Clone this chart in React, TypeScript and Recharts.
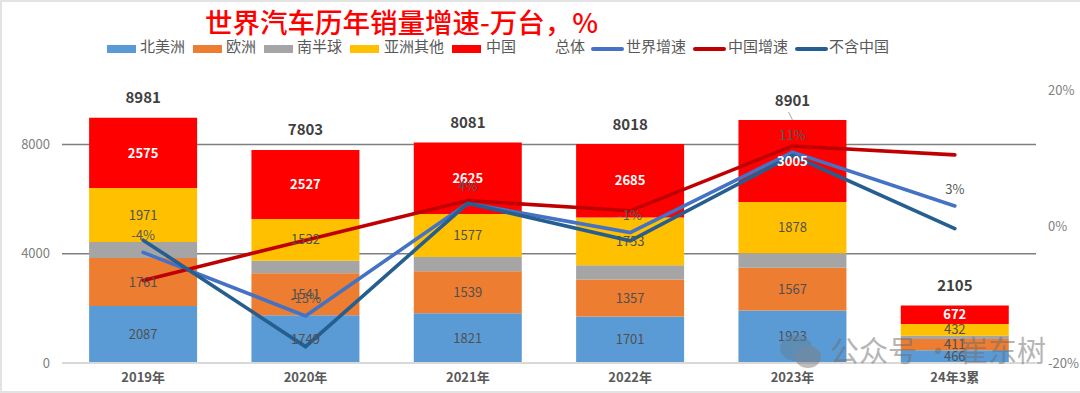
import { Bar, CartesianGrid, ComposedChart, LabelList, Line, XAxis, YAxis } from 'recharts'

const categories = ['2019年', '2020年', '2021年', '2022年', '2023年', '24年3累']
const northAmerica = [2087, 1749, 1821, 1701, 1923, 466]
const europe = [1761, 1541, 1539, 1357, 1567, 411]
const southern = [587, 454, 519, 522, 528, 124]
const otherAsia = [1971, 1532, 1577, 1753, 1878, 432]
const china = [2575, 2527, 2625, 2685, 3005, 672]
const total = [8981, 7803, 8081, 8018, 8901, 2105]
const worldGrowth = [-3.8, -13.1, 3.4, -0.9, 10.9, 3]
const worldGrowthLabels = ['-4%', '-13%', '4%', '-1%', '11%', '3%']
const chinaGrowth = [-7.9, -2, 3.8, 2.3, 11.8, 10.5]
const exChinaGrowth = [-2, -17.6, 3.4, -2.1, 10.4, -0.3]
const leftTicks = [0, 4000, 8000]
const gridValues = [4000, 8000]
const rightTicks = [-20, 0, 20]

const colors = {
  northAmerica: '#5b9bd5',
  europe: '#ed7d31',
  southern: '#a5a5a5',
  otherAsia: '#ffc000',
  china: '#ff0000',
  world: '#4472c4',
  chinaGrowth: '#c00000',
  exChina: '#255e91',
}

const FONT = '"Noto Sans CJK SC", "Noto Sans", sans-serif'

const data = categories.map((name, i) => ({
  name,
  northAmerica: northAmerica[i],
  europe: europe[i],
  southern: southern[i],
  otherAsia: otherAsia[i],
  china: china[i],
  total: total[i],
  world: worldGrowth[i],
  chinaGrowth: chinaGrowth[i],
  exChina: exChinaGrowth[i],
}))

// legend is placed by hand, the reference has uneven spacing
const legendItems = [
  { label: '北美洲', color: colors.northAmerica, kind: 'bar', swatchX: 107, textX: 140 },
  { label: '欧洲', color: colors.europe, kind: 'bar', swatchX: 193, textX: 226 },
  { label: '南半球', color: colors.southern, kind: 'bar', swatchX: 264, textX: 297 },
  { label: '亚洲其他', color: colors.otherAsia, kind: 'bar', swatchX: 350, textX: 384 },
  { label: '中国', color: colors.china, kind: 'bar', swatchX: 452, textX: 486 },
  { label: '总体', color: 'none', kind: 'none', swatchX: 0, textX: 555 },
  { label: '世界增速', color: colors.world, kind: 'line', swatchX: 591, textX: 626 },
  { label: '中国增速', color: colors.chinaGrowth, kind: 'line', swatchX: 693, textX: 728 },
  { label: '不含中国', color: colors.exChina, kind: 'line', swatchX: 795, textX: 829 },
]

const barLabel = { fill: '#505050', fontSize: 13, fontFamily: FONT }
const chinaLabel = { fill: '#ffffff', fontSize: 13, fontWeight: 700, fontFamily: FONT }

function TotalLabel(props: any) {
  const { x, y, index, value } = props
  return (
    <g>
      {index === 4 && <line x1={x - 4} y1={y - 8} x2={x} y2={y} stroke="#a6a6a6" strokeWidth={1} />}
      <text x={x} y={y - 21} textAnchor="middle" dominantBaseline="central" fontSize={15} fontWeight={700} fontFamily={FONT} fill="#404040">
        {value}
      </text>
    </g>
  )
}

function GrowthLabel(props: any) {
  const { x, y, index } = props
  return (
    <text x={x} y={y - 18} textAnchor="middle" dominantBaseline="central" fontSize={13} fontFamily={FONT} fill="#595959">
      {worldGrowthLabels[index]}
    </text>
  )
}

export default function App() {
  return (
    <div style={{ position: 'relative', width: 1080, height: 393, background: '#fff', overflow: 'hidden', fontFamily: FONT }}>
      <style>{'body{margin:0}'}</style>
      <div style={{ position: 'absolute', inset: 0, border: '2px solid #e3e3e3', borderRight: 'none', boxSizing: 'border-box' }} />

      <div style={{ position: 'absolute', left: 205, top: 1, fontSize: 27.5, fontWeight: 500, lineHeight: '40px', color: '#ff0000', whiteSpace: 'nowrap' }}>
        世界汽车历年销量增速-万台，%
      </div>

      {legendItems.map((item) => (
        <div key={item.label}>
          {item.kind === 'bar' && (
            <div style={{ position: 'absolute', left: item.swatchX, top: 45, width: 29, height: 8, background: item.color }} />
          )}
          {item.kind === 'line' && (
            <div style={{ position: 'absolute', left: item.swatchX, top: 47, width: 33, height: 4, borderRadius: 2, background: item.color }} />
          )}
          <div style={{ position: 'absolute', left: item.textX, top: 35, fontSize: 15, lineHeight: '22px', color: '#595959', whiteSpace: 'nowrap' }}>
            {item.label}
          </div>
        </div>
      ))}

      <ComposedChart
        width={1080}
        height={393}
        data={data}
        margin={{ top: 90, right: 0, bottom: 0, left: 0 }}
        barCategoryGap="16.7%"
        style={{ position: 'absolute', left: 0, top: 0 }}
      >
        <CartesianGrid horizontal vertical={false} stroke="#7f7f7f" strokeWidth={1.5} yAxisId="left" horizontalValues={gridValues} />
        <XAxis
          dataKey="name"
          height={30}
          tickLine={false}
          tickSize={0}
          tickMargin={10}
          axisLine={{ stroke: '#d9d9d9', strokeWidth: 2 }}
          tick={{ fill: '#595959', fontSize: 13, fontWeight: 700, fontFamily: FONT }}
        />
        <YAxis
          yAxisId="left"
          width={62}
          domain={[0, 10000]}
          ticks={leftTicks}
          axisLine={false}
          tickLine={false}
          tickSize={0}
          tickMargin={12}
          tick={{ fill: '#808080', fontSize: 13, fontFamily: FONT }}
        />
        <YAxis
          yAxisId="right"
          orientation="right"
          width={44}
          domain={[-20, 20]}
          ticks={rightTicks}
          tickFormatter={(v: number) => `${v}%`}
          axisLine={false}
          tickLine={false}
          tickSize={0}
          tickMargin={12}
          tick={{ fill: '#808080', fontSize: 13, fontFamily: FONT }}
        />

        <Bar yAxisId="left" dataKey="northAmerica" stackId="a" fill={colors.northAmerica} isAnimationActive={false}>
          <LabelList dataKey="northAmerica" position="center" style={barLabel} />
        </Bar>
        <Bar yAxisId="left" dataKey="europe" stackId="a" fill={colors.europe} isAnimationActive={false}>
          <LabelList dataKey="europe" position="center" style={barLabel} />
        </Bar>
        <Bar yAxisId="left" dataKey="southern" stackId="a" fill={colors.southern} isAnimationActive={false} />
        <Bar yAxisId="left" dataKey="otherAsia" stackId="a" fill={colors.otherAsia} isAnimationActive={false}>
          <LabelList dataKey="otherAsia" position="center" style={barLabel} />
        </Bar>
        <Bar yAxisId="left" dataKey="china" stackId="a" fill={colors.china} isAnimationActive={false}>
          <LabelList dataKey="china" position="center" style={chinaLabel} />
        </Bar>

        {/* 总体 has no stroke, it only carries the totals above the stacks */}
        <Line yAxisId="left" dataKey="total" stroke="none" dot={false} activeDot={false} isAnimationActive={false} label={<TotalLabel />} />
        <Line yAxisId="right" dataKey="world" stroke={colors.world} strokeWidth={3.6} strokeLinecap="round" dot={false} isAnimationActive={false} label={<GrowthLabel />} />
        <Line yAxisId="right" dataKey="chinaGrowth" stroke={colors.chinaGrowth} strokeWidth={3.6} strokeLinecap="round" dot={false} isAnimationActive={false} />
        <Line yAxisId="right" dataKey="exChina" stroke={colors.exChina} strokeWidth={3.6} strokeLinecap="round" dot={false} isAnimationActive={false} />
      </ComposedChart>

      {/* watermark */}
      <svg width={50} height={36} style={{ position: 'absolute', left: 776, top: 333, opacity: 0.5 }}>
        <ellipse cx={20} cy={15} rx={16} ry={13} fill="#5f7f96" />
        <ellipse cx={32} cy={24} rx={13} ry={11} fill="#7d7d7d" />
      </svg>
      <div style={{ position: 'absolute', left: 830, top: 329, fontSize: 29, lineHeight: '40px', color: '#6e6e6e', opacity: 0.5, whiteSpace: 'nowrap' }}>
        公众号 · 崔东树
      </div>
    </div>
  )
}
